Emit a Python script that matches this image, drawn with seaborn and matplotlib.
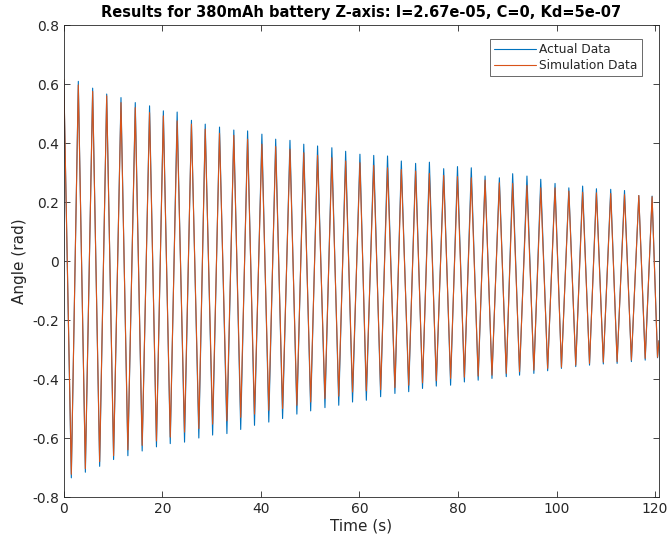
import numpy as np
import pandas as pd
import matplotlib
matplotlib.use("Agg")
import matplotlib.pyplot as plt
import seaborn as sns

# ---- data (extrema of each oscillation) ----
peak_t = [0.0, 2.94, 5.85, 8.7, 11.6, 14.5, 17.4, 20.2, 23.0, 25.9, 28.7, 31.6, 34.5, 37.3,
          40.2, 43.0, 45.9, 48.7, 51.5, 54.4, 57.2, 60.1, 62.9, 65.7, 68.5, 71.4, 74.2, 77.1,
          79.9, 82.7, 85.5, 88.4, 91.1, 94.0, 96.8, 99.7, 102.5, 105.3, 108.1, 111.0, 113.8,
          116.7, 119.4]
trough_t = [1.52, 4.37, 7.27, 10.1, 13.0, 15.9, 18.8, 21.6, 24.5, 27.4, 30.2, 33.1, 35.9,
            38.7, 41.6, 44.4, 47.3, 50.1, 53.0, 55.8, 58.6, 61.4, 64.3, 67.2, 70.0, 72.8,
            75.6, 78.5, 81.3, 84.1, 86.9, 89.8, 92.5, 95.4, 98.2, 101.0, 103.9, 106.7, 109.5,
            112.3, 115.2, 118.0, 120.5]
end_t = [120.8]

actual_peaks = [0.61, 0.609, 0.586, 0.566, 0.554, 0.537, 0.526, 0.509, 0.505, 0.477, 0.464,
                0.454, 0.444, 0.441, 0.43, 0.413, 0.409, 0.396, 0.39, 0.384, 0.372, 0.362,
                0.358, 0.356, 0.339, 0.331, 0.335, 0.313, 0.32, 0.316, 0.288, 0.282, 0.296,
                0.288, 0.277, 0.263, 0.248, 0.254, 0.245, 0.243, 0.239, 0.222, 0.22]
actual_troughs = [-0.735, -0.716, -0.696, -0.673, -0.66, -0.644, -0.63, -0.619, -0.614, -0.6,
                  -0.59, -0.585, -0.571, -0.557, -0.546, -0.534, -0.519, -0.508, -0.497,
                  -0.489, -0.478, -0.472, -0.46, -0.449, -0.443, -0.432, -0.424, -0.421,
                  -0.41, -0.404, -0.398, -0.392, -0.387, -0.381, -0.372, -0.364, -0.358,
                  -0.353, -0.349, -0.347, -0.341, -0.336, -0.328]
actual_end = [-0.27]

sim_peaks = [0.616, 0.597, 0.575, 0.56, 0.537, 0.52, 0.503, 0.492, 0.475, 0.464, 0.447,
             0.433, 0.426, 0.413, 0.396, 0.388, 0.379, 0.367, 0.358, 0.35, 0.339, 0.333,
             0.324, 0.316, 0.31, 0.305, 0.297, 0.29, 0.286, 0.282, 0.274, 0.265, 0.263,
             0.256, 0.248, 0.248, 0.237, 0.233, 0.231, 0.229, 0.225, 0.222, 0.218]
sim_troughs = [-0.723, -0.704, -0.68, -0.66, -0.64, -0.625, -0.61, -0.597, -0.58, -0.568,
               -0.553, -0.542, -0.53, -0.519, -0.506, -0.5, -0.489, -0.478, -0.466, -0.458,
               -0.444, -0.44, -0.436, -0.429, -0.421, -0.413, -0.406, -0.398, -0.394, -0.39,
               -0.387, -0.381, -0.375, -0.37, -0.364, -0.36, -0.353, -0.347, -0.343, -0.341,
               -0.336, -0.33, -0.326]
sim_end = [-0.27]

series_names = ["Actual Data", "Simulation Data"]
colors = ["#0072BD", "#D95319"]

title = "Results for 380mAh battery Z-axis: I=2.67e-05, C=0, Kd=5e-07"
x_label = "Time (s)"
y_label = "Angle (rad)"
x_ticks = [0, 20, 40, 60, 80, 100, 120]
y_ticks = [-0.8, -0.6, -0.4, -0.2, 0, 0.2, 0.4, 0.6, 0.8]
y_tick_labels = ["-0.8", "-0.6", "-0.4", "-0.2", "0", "0.2", "0.4", "0.6", "0.8"]

# ---- build long table ----
t_all = np.array(peak_t + trough_t + end_t)
frames = []
for name, pk, tr, en in [(series_names[0], actual_peaks, actual_troughs, actual_end),
                         (series_names[1], sim_peaks, sim_troughs, sim_end)]:
    v = np.array(pk + tr + en)
    order = np.argsort(t_all)
    frames.append(pd.DataFrame({"Time": t_all[order], "Angle": v[order], "Series": name}))
df = pd.concat(frames, ignore_index=True)

sns.set_style("ticks")
plt.rcParams["font.family"] = ["DejaVu Sans"]
plt.rcParams["axes.unicode_minus"] = False

fig = plt.figure(figsize=(6.67, 5.38), dpi=100)
ax = fig.add_axes([0.0957, 0.0762, 0.8923, 0.8773])

sns.lineplot(data=df, x="Time", y="Angle", hue="Series", hue_order=series_names,
             palette=colors, estimator=None, sort=False, linewidth=0.8, ax=ax)

dark = "#262626"
ax.set_xlim(0, 120.8)
ax.set_ylim(-0.8, 0.8)
ax.set_xticks(x_ticks)
ax.set_yticks(y_ticks)
ax.set_yticklabels(y_tick_labels)
ax.tick_params(direction="in", length=4, width=0.6, colors=dark, labelcolor=dark,
               labelsize=10, top=True, right=True)
for s in ax.spines.values():
    s.set_visible(True)
    s.set_color(dark)
    s.set_linewidth(0.6)
ax.set_xlabel(x_label, fontsize=11, color=dark, labelpad=2)
ax.set_ylabel(y_label, fontsize=11, color=dark, labelpad=4)
ax.set_title(title, fontsize=10.5, fontweight="bold", color="black", pad=6)

leg = ax.legend(loc="upper right", bbox_to_anchor=(0.9715, 0.970), borderaxespad=0,
                fontsize=8.8, frameon=True, fancybox=False, handlelength=3.4,
                handletextpad=0.3, borderpad=0.35, labelspacing=0.2)
leg.get_frame().set_edgecolor(dark)
leg.get_frame().set_linewidth(0.6)
for line in leg.get_lines():
    line.set_linewidth(0.8)

fig.savefig("out.png", dpi=100)
